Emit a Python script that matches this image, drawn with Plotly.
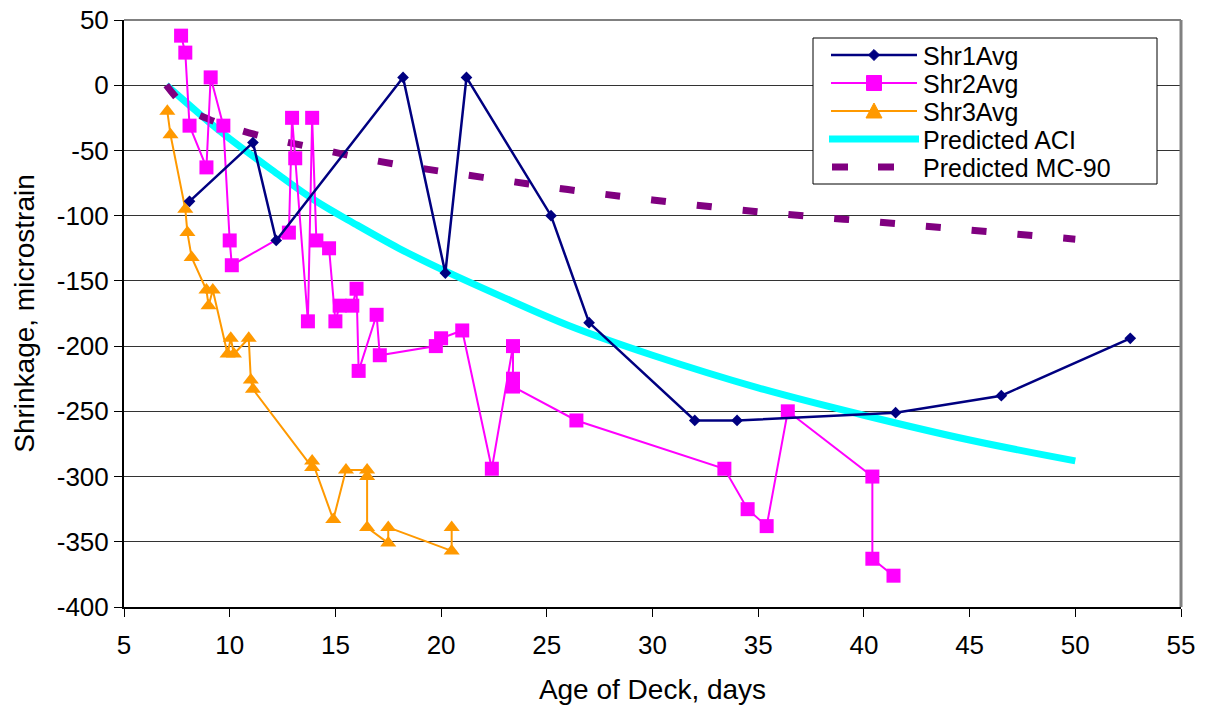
import plotly.graph_objects as go

# ---------------- data ----------------
shr1_days = [8.1, 11.1, 12.2, 18.2, 20.2, 21.2, 25.2, 27.0, 32.0, 34.0, 41.5, 46.5, 52.6]
shr1_vals = [-89, -44, -119, 6, -144, 6, -100, -182, -257, -257, -251, -238, -194]

shr2_days = [7.7, 7.9, 8.1, 8.9, 9.1, 9.7, 10.0, 10.1, 12.8, 12.95, 13.1, 13.7, 13.9,
             14.1, 14.7, 15.0, 15.2, 15.8, 16.0, 16.1, 16.95, 17.1, 19.75, 20.0, 21.0,
             22.4, 23.4, 23.4, 23.4, 26.4, 33.4, 34.5, 35.4, 36.4, 40.4, 40.4, 41.4]
shr2_vals = [38, 25, -31, -63, 6, -31, -119, -138, -113, -25, -56, -181, -25,
             -119, -125, -181, -169, -169, -156, -219, -176, -207, -200, -194, -188,
             -294, -200, -225, -231, -257, -294, -325, -338, -250, -300, -363, -376]

shr3_days = [7.05, 7.2, 7.9, 8.0, 8.2, 8.9, 9.0, 9.2, 9.9, 10.05, 10.2, 10.9, 11.0,
             11.1, 13.9, 13.9, 14.9, 15.5, 16.5, 16.5, 16.5, 17.5, 17.5, 20.5, 20.5]
shr3_vals = [-20, -38, -95, -113, -132, -157, -169, -157, -206, -194, -206, -194, -226,
             -233, -293, -288, -333, -295, -295, -300, -339, -351, -339, -357, -339]

aci_days = [7, 8, 9, 10, 12, 14, 16, 18, 20, 23, 26, 30, 35, 40, 45, 50]
aci_vals = [0, -14, -28, -41, -65, -88, -107, -125, -141, -163, -184, -207, -232, -253, -272, -288]

mc90_days = [7, 8, 9, 10, 12, 14, 16, 18, 20, 23, 26, 30, 35, 40, 45, 50]
mc90_vals = [0, -18, -26, -32, -41, -48, -55, -61, -66, -73, -80, -88, -97, -104, -111, -118]

x_ticks = [5, 10, 15, 20, 25, 30, 35, 40, 45, 50, 55]
x_labels = ["5", "10", "15", "20", "25", "30", "35", "40", "45", "50", "55"]
y_ticks = [50, 0, -50, -100, -150, -200, -250, -300, -350, -400]
y_labels = ["50", "0", "-50", "-100", "-150", "-200", "-250", "-300", "-350", "-400"]

series_names = ["Shr1Avg", "Shr2Avg", "Shr3Avg", "Predicted ACI", "Predicted MC-90"]

NAVY = "#000080"
MAGENTA = "#FF00FF"
ORANGE = "#FF9900"
CYAN = "#00FFFF"
PURPLE = "#800080"
FONT = "Liberation Sans, Arial, sans-serif"

W, H = 1209, 711
ML, MR, MT, MB = 124, 28, 20, 104
PW, PH = W - ML - MR, H - MT - MB

fig = go.Figure()

fig.add_trace(go.Scatter(x=aci_days, y=aci_vals, mode="lines", name=series_names[3],
                         line=dict(color=CYAN, width=7, shape="spline"), showlegend=False))
fig.add_trace(go.Scatter(x=mc90_days, y=mc90_vals, mode="lines", name=series_names[4],
                         line=dict(color=PURPLE, width=7, dash="15px,31px", shape="spline"),
                         showlegend=False))
fig.add_trace(go.Scatter(x=shr3_days, y=shr3_vals, mode="lines+markers", name=series_names[2],
                         line=dict(color=ORANGE, width=2),
                         marker=dict(symbol="triangle-up", size=14, color=ORANGE),
                         showlegend=False))
fig.add_trace(go.Scatter(x=shr2_days, y=shr2_vals, mode="lines+markers", name=series_names[1],
                         line=dict(color=MAGENTA, width=2),
                         marker=dict(symbol="square", size=14, color=MAGENTA),
                         showlegend=False))
fig.add_trace(go.Scatter(x=shr1_days, y=shr1_vals, mode="lines+markers", name=series_names[0],
                         line=dict(color=NAVY, width=2.5),
                         marker=dict(symbol="diamond", size=9, color=NAVY),
                         showlegend=False))


# ---------------- legend (drawn in paper coordinates) ----------------
def px(x):
    return (x - ML) / PW


def py(y):
    return (H - MB - y) / PH


shapes = []
annotations = []
# plot-area top / right border (grey)
shapes.append(dict(type="line", xref="paper", yref="paper", x0=0, x1=1, y0=1, y1=1,
                   line=dict(color="#808080", width=2)))
shapes.append(dict(type="line", xref="paper", yref="paper", x0=1, x1=1, y0=0, y1=1,
                   line=dict(color="#808080", width=3)))

# legend box
shapes.append(dict(type="rect", xref="paper", yref="paper",
                   x0=px(813), x1=px(1157), y0=py(184), y1=py(38),
                   line=dict(color="black", width=1), fillcolor="white", layer="above"))

rows_y = [55, 83, 111, 139, 167]
lx0, lx1, lxc = 831, 917, 874
# line samples
shapes.append(dict(type="line", xref="paper", yref="paper", x0=px(lx0), x1=px(lx1),
                   y0=py(rows_y[0]), y1=py(rows_y[0]), line=dict(color=NAVY, width=2.5), layer="above"))
shapes.append(dict(type="line", xref="paper", yref="paper", x0=px(lx0), x1=px(lx1),
                   y0=py(rows_y[1]), y1=py(rows_y[1]), line=dict(color=MAGENTA, width=2), layer="above"))
shapes.append(dict(type="line", xref="paper", yref="paper", x0=px(lx0), x1=px(lx1),
                   y0=py(rows_y[2]), y1=py(rows_y[2]), line=dict(color=ORANGE, width=2), layer="above"))
shapes.append(dict(type="line", xref="paper", yref="paper", x0=px(lx0 - 2), x1=px(lx1 + 2),
                   y0=py(rows_y[3]), y1=py(rows_y[3]), line=dict(color=CYAN, width=7), layer="above"))
for a, b in [(832, 848), (878, 894)]:
    shapes.append(dict(type="line", xref="paper", yref="paper", x0=px(a), x1=px(b),
                       y0=py(rows_y[4]), y1=py(rows_y[4]), line=dict(color=PURPLE, width=7),
                       layer="above"))


def path(points):
    return "M " + " L ".join(f"{px(x):.5f},{py(y):.5f}" for x, y in points) + " Z"


# marker samples
d = 5.5
shapes.append(dict(type="path", xref="paper", yref="paper", layer="above",
                   path=path([(lxc, rows_y[0] - d), (lxc + d, rows_y[0]), (lxc, rows_y[0] + d),
                              (lxc - d, rows_y[0])]),
                   fillcolor=NAVY, line=dict(color=NAVY, width=1)))
s = 7.5
shapes.append(dict(type="rect", xref="paper", yref="paper", layer="above",
                   x0=px(lxc - s), x1=px(lxc + s), y0=py(rows_y[1] + s), y1=py(rows_y[1] - s),
                   fillcolor=MAGENTA, line=dict(color=MAGENTA, width=1)))
shapes.append(dict(type="path", xref="paper", yref="paper", layer="above",
                   path=path([(lxc, rows_y[2] - 8), (lxc + 8, rows_y[2] + 7), (lxc - 8, rows_y[2] + 7)]),
                   fillcolor=ORANGE, line=dict(color=ORANGE, width=1)))

for name, yy in zip(series_names, rows_y):
    annotations.append(dict(text=name, xref="paper", yref="paper", x=px(922), y=py(yy + 1),
                            xanchor="left", yanchor="middle", showarrow=False, borderpad=0,
                            font=dict(family=FONT, size=25, color="black")))

fig.update_layout(
    width=W, height=H,
    margin=dict(l=ML, r=MR, t=MT, b=MB, autoexpand=False),
    paper_bgcolor="white", plot_bgcolor="white",
    font=dict(family=FONT, color="black"),
    shapes=shapes, annotations=annotations,
    showlegend=False,
)
fig.update_xaxes(
    range=[5, 55], tickvals=x_ticks, ticktext=x_labels,
    showgrid=False, zeroline=False,
    showline=True, linecolor="black", linewidth=2,
    ticks="outside", ticklen=8, tickwidth=1, tickcolor="black", ticklabelstandoff=6,
    tickfont=dict(family=FONT, size=26, color="black"),
    title=dict(text="Age of Deck, days", font=dict(family=FONT, size=28, color="black"), standoff=20),
)
fig.update_yaxes(
    range=[-400, 50], tickvals=y_ticks, ticktext=y_labels,
    showgrid=True, gridcolor="#333333", gridwidth=1, zeroline=False,
    showline=True, linecolor="black", linewidth=2,
    ticks="outside", ticklen=8, tickwidth=1, tickcolor="black",
    tickfont=dict(family=FONT, size=26, color="black"),
    title=dict(text="Shrinkage, microstrain", font=dict(family=FONT, size=28, color="black"), standoff=14),
)

fig.write_html("out.html")
